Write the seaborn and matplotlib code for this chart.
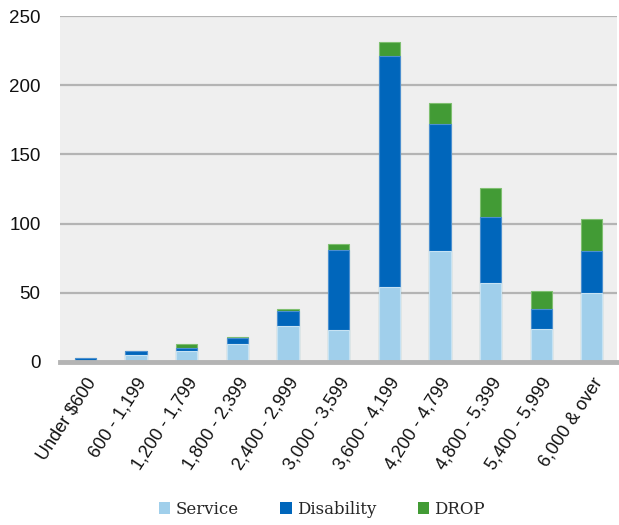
import matplotlib
matplotlib.use("Agg")
import matplotlib.pyplot as plt
import seaborn as sns
import numpy as np
import pandas as pd
from matplotlib.patches import Patch

categories = ["Under $600", "600 - 1,199", "1,200 - 1,799", "1,800 - 2,399",
              "2,400 - 2,999", "3,000 - 3,599", "3,600 - 4,199", "4,200 - 4,799",
              "4,800 - 5,399", "5,400 - 5,999", "6,000 & over"]
service = [1, 5, 8, 13, 26, 23, 54, 80, 57, 24, 50]
disability = [2, 3, 2, 4, 11, 58, 167, 92, 48, 14, 30]
drop = [0, 0, 3, 1, 1, 4, 10, 15, 21, 13, 23]

series_names = ["Service", "Disability", "DROP"]
colors = ["#a0cfeb", "#0066bb", "#429b35"]
edge_colors = ["#c6e2f3", "#4c8fd0", "#7fbf70"]

sns.set_theme(style="white")
plt.rcParams["font.family"] = ["Liberation Sans", "DejaVu Sans"]

df = pd.DataFrame({"bracket": categories, "Service": service,
                   "Disability": disability, "DROP": drop})
df["lvl1"] = df["Service"]
df["lvl2"] = df["Service"] + df["Disability"]
df["lvl3"] = df["lvl2"] + df["DROP"]

fig = plt.figure(figsize=(6.19, 5.25), dpi=100)
ax = fig.add_axes([0.097, 0.3105, 0.9, 0.659])
ax.set_facecolor("#efefef")

# stacked bars: draw cumulative totals from the top layer down
for col, c, ec in zip(["lvl3", "lvl2", "lvl1"], colors[::-1], edge_colors[::-1]):
    sns.barplot(data=df, x="bracket", y=col, color=c, width=0.42,
                edgecolor=ec, linewidth=0.8, saturation=1, ax=ax, zorder=3)

ax.set_ylim(0, 250)
ax.set_xlim(-0.5, len(categories) - 0.5)
ax.set_yticks([0, 50, 100, 150, 200, 250])
ax.yaxis.grid(True, color="#b4b4b4", linewidth=1.6, zorder=0)
ax.set_axisbelow(True)
for s in ["top", "right", "left"]:
    ax.spines[s].set_visible(False)
ax.spines["bottom"].set_color("#b4b4b4")
ax.spines["bottom"].set_linewidth(3.5)
ax.spines["bottom"].set_zorder(4)
ax.set_xlabel("")
ax.set_ylabel("")
ax.set_yticks([0, 50, 100, 150, 200, 250])
ax.set_yticklabels(["0", "50", "100", "150", "200", "250"],
                   fontsize=13.5, family="Liberation Sans", color="#111111")
ax.tick_params(axis="y", pad=14, length=0)
ax.tick_params(axis="x", length=0, pad=9)
ax.set_xticks(range(len(categories)))
ax.set_xticklabels(categories, rotation=57, ha="right", rotation_mode="anchor",
                   fontsize=13, family="Liberation Sans", color="#111111")

handles = [Patch(facecolor=c, edgecolor="none") for c in colors]
fig.legend(handles, series_names, loc="lower center", ncol=3,
           bbox_to_anchor=(0.52, -0.015), frameon=False, handlelength=0.7,
           handleheight=0.7, handletextpad=0.3, columnspacing=2.5,
           prop={"family": "DejaVu Serif", "size": 12})

fig.savefig("out.png", dpi=100)
